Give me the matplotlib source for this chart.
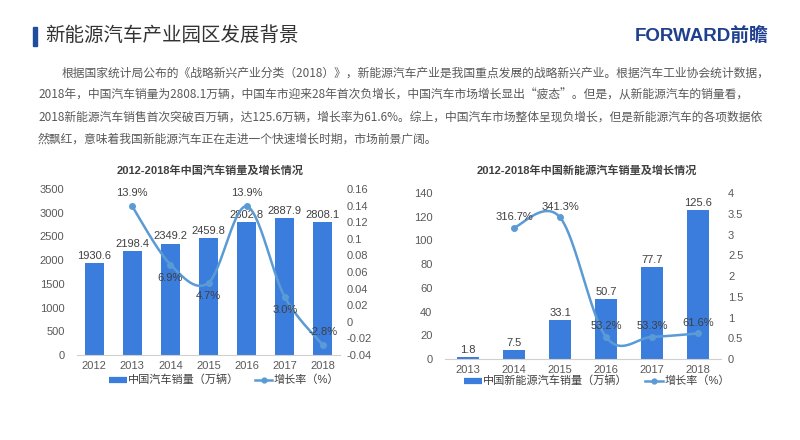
import numpy as np
import matplotlib.pyplot as plt
from matplotlib.patches import Rectangle
from matplotlib.lines import Line2D

plt.rcParams['font.family'] = ['Liberation Sans', 'Noto Sans CJK SC', 'DejaVu Sans']

# ---- data ----
car_years = ['2012', '2013', '2014', '2015', '2016', '2017', '2018']
car_sales = [1930.6, 2198.4, 2349.2, 2459.8, 2802.8, 2887.9, 2808.1]
car_growth_years = ['2013', '2014', '2015', '2016', '2017', '2018']
car_growth = [0.139, 0.069, 0.047, 0.139, 0.030, -0.028]
car_growth_text = ['13.9%', '6.9%', '4.7%', '13.9%', '3.0%', '-2.8%']
car_label_side = ['up', 'down', 'down', 'up', 'down', 'up']

nev_years = ['2013', '2014', '2015', '2016', '2017', '2018']
nev_sales = [1.8, 7.5, 33.1, 50.7, 77.7, 125.6]
nev_growth_years = ['2014', '2015', '2016', '2017', '2018']
nev_growth = [3.167, 3.413, 0.532, 0.533, 0.616]
nev_growth_text = ['316.7%', '341.3%', '53.2%', '53.3%', '61.6%']

paragraph = [
    '根据国家统计局公布的《战略新兴产业分类（2018）》，新能源汽车产业是我国重点发展的战略新兴产业。根据汽车工业协会统计数据，',
    '2018年，中国汽车销量为2808.1万辆，中国车市迎来28年首次负增长，中国汽车市场增长显出“疲态”。但是，从新能源汽车的销量看，',
    '2018新能源汽车销售首次突破百万辆，达125.6万辆，增长率为61.6%。综上，中国汽车市场整体呈现负增长，但是新能源汽车的各项数据依',
    '然飘红，意味着我国新能源汽车正在走进一个快速增长时期，市场前景广阔。',
]

BAR = '#3b7ddd'
LINE = '#5b9bd5'
TXT = '#404040'
W, H = 800, 440


def box(x0, y0, x1, y1):
    # pixel box (top-left origin) -> figure fraction rect
    return [x0 / W, 1 - y1 / H, (x1 - x0) / W, (y1 - y0) / H]


def smooth(x, y, n=30):
    # excel-like smoothed line (bezier through the points)
    P = np.column_stack([np.asarray(x, float), np.asarray(y, float)])
    out = []
    for i in range(len(P) - 1):
        p0 = P[max(i - 1, 0)]
        p1 = P[i]
        p2 = P[i + 1]
        p3 = P[min(i + 2, len(P) - 1)]
        c1 = p1 + (p2 - p0) / 6
        c2 = p2 - (p3 - p1) / 6
        t = np.linspace(0, 1, n)[:, None]
        seg = (1 - t) ** 3 * p1 + 3 * (1 - t) ** 2 * t * c1 + 3 * (1 - t) * t ** 2 * c2 + t ** 3 * p2
        out.append(seg)
    out = np.vstack(out)
    return out[:, 0], out[:, 1]


def style(ax, ax2):
    for a in (ax, ax2):
        for s in a.spines.values():
            s.set_visible(False)
        a.tick_params(length=0, labelsize=8, labelcolor='#595959')
    ax.spines['bottom'].set_visible(True)
    ax.spines['bottom'].set_color('#d0d0d0')
    ax.tick_params(axis='y', pad=9)
    ax.tick_params(axis='x', pad=4)
    ax2.tick_params(axis='y', pad=5)


fig = plt.figure(figsize=(8, 4.4), dpi=100)
fig.patch.set_facecolor('white')

# header
fig.patches.append(Rectangle((33 / W, 1 - 46 / H), 4 / W, 19 / H, transform=fig.transFigure,
                             color='#1f4e9c', figure=fig))
fig.text(45 / W, 1 - 36 / H, '新能源汽车产业园区发展背景', fontsize=14, color='#333333', va='center')
fig.text(768 / W, 1 - 36 / H, 'FORWARD前瞻', fontsize=13.5, color='#1f3f8f', va='center', ha='right',
         fontweight='bold')

ys = [73, 95, 117, 139]
xs = [62, 38, 38, 38]
for line, x, y in zip(paragraph, xs, ys):
    fig.text(x / W, 1 - y / H, line, fontsize=8.5, color='#595959', va='center',
             family=['Noto Sans CJK SC', 'DejaVu Sans'])

h1 = Line2D([], [], color=BAR, lw=4.5, solid_capstyle='butt')
h2 = Line2D([], [], color=LINE, lw=1.8, marker='o', ms=3.5)

# ---- left chart ----
ax = fig.add_axes(box(77, 189, 340, 355))
ax2 = ax.twinx()
xi = np.arange(len(car_years))
ax.bar(xi, car_sales, width=0.5, color=BAR, zorder=2)
ax.set_ylim(0, 3500)
ax.set_yticks(np.arange(0, 3501, 500))
ax.set_xlim(-0.45, len(car_years) - 0.55)
ax.set_xticks(xi)
ax.set_xticklabels(car_years)
for x, v in zip(xi, car_sales):
    ax.annotate(f'{v:.1f}', (x, v), xytext=(0, 1.5), textcoords='offset points',
                ha='center', va='bottom', fontsize=8, color=TXT)

gx = np.array([car_years.index(y) for y in car_growth_years])
sx, sy = smooth(gx, car_growth)
ax2.plot(sx, sy, color=LINE, lw=1.8, zorder=3)
ax2.plot(gx, car_growth, 'o', color=LINE, ms=4, zorder=3)
ax2.set_ylim(-0.04, 0.16)
rt = np.round(np.arange(-0.04, 0.1601, 0.02), 2)
ax2.set_yticks(rt)
ax2.set_yticklabels([f'{v:g}' for v in rt])
for x, v, t, side in zip(gx, car_growth, car_growth_text, car_label_side):
    off = 6 if side == 'up' else -6
    ax2.annotate(t, (x, v), xytext=(0, off), textcoords='offset points', ha='center',
                 va='bottom' if side == 'up' else 'top', fontsize=8, color=TXT)
style(ax, ax2)
fig.text(210 / W, 1 - 170 / H, '2012-2018年中国汽车销量及增长情况', fontsize=8, fontweight='bold',
         color=TXT, ha='center', va='center')
fig.legend([h1, h2], ['中国汽车销量（万辆）', '增长率（%）'], loc='center',
           bbox_to_anchor=(224 / W, 1 - 380 / H), ncol=2, frameon=False, fontsize=8,
           handlelength=1.6, handletextpad=0.1, columnspacing=1.4, labelcolor=TXT)

# ---- right chart ----
bx = fig.add_axes(box(445, 193, 721, 359))
bx2 = bx.twinx()
xj = np.arange(len(nev_years))
bx.bar(xj, nev_sales, width=0.48, color=BAR, zorder=2)
bx.set_ylim(0, 140)
bx.set_yticks(np.arange(0, 141, 20))
bx.set_xlim(-0.5, len(nev_years) - 0.5)
bx.set_xticks(xj)
bx.set_xticklabels(nev_years)
for x, v in zip(xj, nev_sales):
    bx.annotate(f'{v:g}', (x, v), xytext=(0, 1.5), textcoords='offset points',
                ha='center', va='bottom', fontsize=8, color=TXT)

gj = np.array([nev_years.index(y) for y in nev_growth_years])
sx, sy = smooth(gj, nev_growth)
bx2.plot(sx, sy, color=LINE, lw=1.8, zorder=3)
bx2.plot(gj, nev_growth, 'o', color=LINE, ms=4, zorder=3)
bx2.set_ylim(0, 4)
rt2 = np.arange(0, 4.01, 0.5)
bx2.set_yticks(rt2)
bx2.set_yticklabels([f'{v:g}' for v in rt2])
for x, v, t in zip(gj, nev_growth, nev_growth_text):
    bx2.annotate(t, (x, v), xytext=(0, 4), textcoords='offset points', ha='center',
                 va='bottom', fontsize=8, color=TXT)
style(bx, bx2)
fig.text(587 / W, 1 - 170 / H, '2012-2018年中国新能源汽车销量及增长情况', fontsize=8, fontweight='bold',
         color=TXT, ha='center', va='center')
fig.legend([h1, h2], ['中国新能源汽车销量（万辆）', '增长率（%）'], loc='center',
           bbox_to_anchor=(597 / W, 1 - 381 / H), ncol=2, frameon=False, fontsize=8,
           handlelength=1.6, handletextpad=0.1, columnspacing=1.6, labelcolor=TXT)

fig.savefig('out.png', dpi=100, facecolor='white')
